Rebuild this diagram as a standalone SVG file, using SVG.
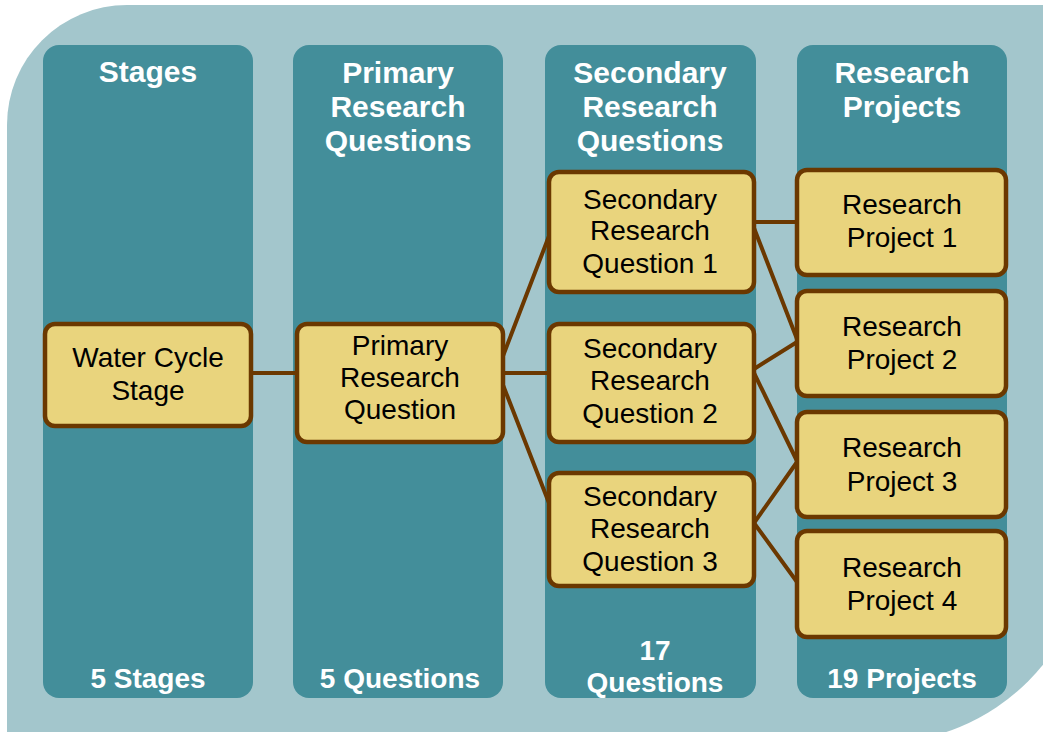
<svg xmlns="http://www.w3.org/2000/svg" width="1043" height="732" viewBox="0 0 1043 732">
<style>
.col{fill:#438e9a}
.node{fill:#e9d47d;stroke:#6b3800;stroke-width:4.5}
.hd{font-family:"Liberation Sans",Arial,sans-serif;font-weight:bold;font-size:30px;fill:#ffffff;text-anchor:middle}
.ft{font-family:"Liberation Sans",Arial,sans-serif;font-weight:bold;font-size:28px;fill:#ffffff;text-anchor:middle}
.nt{font-family:"Liberation Sans",Arial,sans-serif;font-size:28px;fill:#000000;text-anchor:middle}
.cn{stroke:#6b3800;stroke-width:4;fill:none;stroke-linecap:round}
</style>
<rect width="1043" height="732" fill="#ffffff"/>
<path d="M7,125 A120,120 0 0 1 127,5 H1090 V532 A211,211 0 0 1 879,743 H7 Z" fill="#a3c6cc"/>

<g id="col-stages">
<rect class="col" x="43" y="45" width="210" height="653" rx="16"/>
<text class="hd" x="148" y="82">Stages</text>
<text class="ft" x="148" y="688">5 Stages</text>
</g>
<g id="col-primary">
<rect class="col" x="293" y="45" width="210" height="653" rx="16"/>
<text class="hd" x="398" y="83">Primary</text>
<text class="hd" x="398" y="117">Research</text>
<text class="hd" x="398" y="151">Questions</text>
<text class="ft" x="400" y="688">5 Questions</text>
</g>
<g id="col-secondary">
<rect class="col" x="545" y="45" width="211" height="653" rx="16"/>
<text class="hd" x="650" y="83">Secondary</text>
<text class="hd" x="650" y="117">Research</text>
<text class="hd" x="650" y="151">Questions</text>
<text class="ft" x="655" y="660">17</text>
<text class="ft" x="655" y="692">Questions</text>
</g>
<g id="col-projects">
<rect class="col" x="797" y="45" width="210" height="653" rx="16"/>
<text class="hd" x="902" y="83">Research</text>
<text class="hd" x="902" y="117">Projects</text>
<text class="ft" x="902" y="688">19 Projects</text>
</g>

<g id="connectors">
<line class="cn" x1="251" y1="373" x2="297" y2="373"/>
<line class="cn" x1="503" y1="356" x2="549" y2="236"/>
<line class="cn" x1="503" y1="373" x2="549" y2="373"/>
<line class="cn" x1="503" y1="385" x2="549" y2="503"/>
<line class="cn" x1="754" y1="222" x2="797" y2="222"/>
<line class="cn" x1="754" y1="228" x2="797" y2="339"/>
<line class="cn" x1="754" y1="369" x2="797" y2="342"/>
<line class="cn" x1="754" y1="373" x2="797" y2="461"/>
<line class="cn" x1="754" y1="523" x2="797" y2="462"/>
<line class="cn" x1="754" y1="523" x2="797" y2="582"/>
</g>

<g id="n-wcs">
<rect class="node" x="45" y="324" width="206" height="102" rx="10"/>
<text class="nt" x="148" y="367">Water Cycle</text>
<text class="nt" x="148" y="400">Stage</text>
</g>
<g id="n-prq">
<rect class="node" x="297" y="324" width="206" height="118" rx="10"/>
<text class="nt" x="400" y="355">Primary</text>
<text class="nt" x="400" y="387">Research</text>
<text class="nt" x="400" y="419">Question</text>
</g>
<g id="n-srq1">
<rect class="node" x="549" y="172" width="205" height="120" rx="10"/>
<text class="nt" x="650" y="209">Secondary</text>
<text class="nt" x="650" y="240">Research</text>
<text class="nt" x="650" y="273">Question 1</text>
</g>
<g id="n-srq2">
<rect class="node" x="549" y="324" width="205" height="118" rx="10"/>
<text class="nt" x="650" y="358">Secondary</text>
<text class="nt" x="650" y="390">Research</text>
<text class="nt" x="650" y="423">Question 2</text>
</g>
<g id="n-srq3">
<rect class="node" x="549" y="473" width="205" height="113" rx="10"/>
<text class="nt" x="650" y="506">Secondary</text>
<text class="nt" x="650" y="538">Research</text>
<text class="nt" x="650" y="571">Question 3</text>
</g>
<g id="n-rp1">
<rect class="node" x="797" y="170" width="209" height="105" rx="10"/>
<text class="nt" x="902" y="214">Research</text>
<text class="nt" x="902" y="247">Project 1</text>
</g>
<g id="n-rp2">
<rect class="node" x="797" y="291" width="209" height="105" rx="10"/>
<text class="nt" x="902" y="336">Research</text>
<text class="nt" x="902" y="369">Project 2</text>
</g>
<g id="n-rp3">
<rect class="node" x="797" y="412" width="209" height="105" rx="10"/>
<text class="nt" x="902" y="457">Research</text>
<text class="nt" x="902" y="491">Project 3</text>
</g>
<g id="n-rp4">
<rect class="node" x="797" y="531" width="209" height="106" rx="10"/>
<text class="nt" x="902" y="577">Research</text>
<text class="nt" x="902" y="610">Project 4</text>
</g>
</svg>
